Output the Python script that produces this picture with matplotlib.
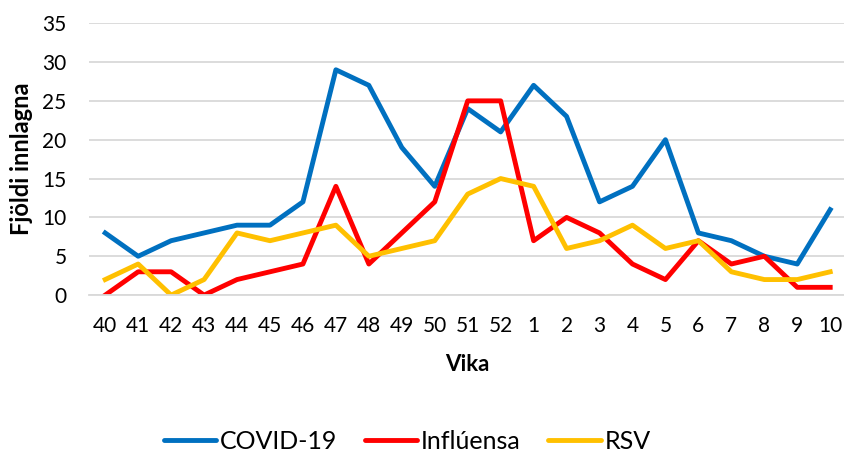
import matplotlib
matplotlib.use("Agg")
import matplotlib.pyplot as plt

weeks = ["40","41","42","43","44","45","46","47","48","49","50","51","52",
         "1","2","3","4","5","6","7","8","9","10"]
covid = [8,5,7,8,9,9,12,29,27,19,14,24,21,27,23,12,14,20,8,7,5,4,11]
influensa = [0,3,3,0,2,3,4,14,4,8,12,25,25,7,10,8,4,2,7,4,5,1,1]
rsv = [2,4,0,2,8,7,8,9,5,6,7,13,15,14,6,7,9,6,7,3,2,2,3]
yticks = [0,5,10,15,20,25,30,35]

plt.rcParams['font.family'] = ['Lato', 'DejaVu Sans']

fig = plt.figure(figsize=(8.45, 4.54), dpi=100)
ax = fig.add_axes([0.105, 0.350, 0.897, 0.599])
x = list(range(len(weeks)))
lw = 3.5
ax.plot(x, covid, color="#0070C0", lw=lw, label="COVID-19", solid_joinstyle='round')
ax.plot(x, influensa, color="#FF0000", lw=lw, label="Inflúensa", solid_joinstyle='round')
ax.plot(x, rsv, color="#FFC000", lw=lw, label="RSV", solid_joinstyle='round')

ax.set_xlim(-0.5, len(weeks) - 0.5)
ax.set_ylim(0, 35)
ax.set_yticks(yticks)
ax.set_xticks(x)
ax.set_xticklabels(weeks)
ax.yaxis.grid(True, color="#D9D9D9", lw=1.3)
ax.set_axisbelow(True)
for s in ax.spines.values():
    s.set_visible(False)
ax.spines['bottom'].set_visible(True)
ax.spines['bottom'].set_color("#D9D9D9")
ax.spines['bottom'].set_linewidth(1.3)
ax.tick_params(axis='both', length=0, labelsize=15, colors="#000000")
ax.tick_params(axis='x', pad=15)
ax.tick_params(axis='y', pad=16)
ax.set_xlabel("Vika", fontsize=16, fontweight='bold', labelpad=13)
ax.set_ylabel("Fjöldi innlagna", fontsize=17, fontweight='bold', labelpad=7)

leg = fig.legend(loc='center', bbox_to_anchor=(0.482, 0.027), ncol=3, frameon=False,
                 fontsize=18, handlelength=2.1, columnspacing=1.1, handletextpad=0.15)
for h in leg.get_lines():
    h.set_solid_capstyle('round')

fig.savefig("out.png", dpi=100)
